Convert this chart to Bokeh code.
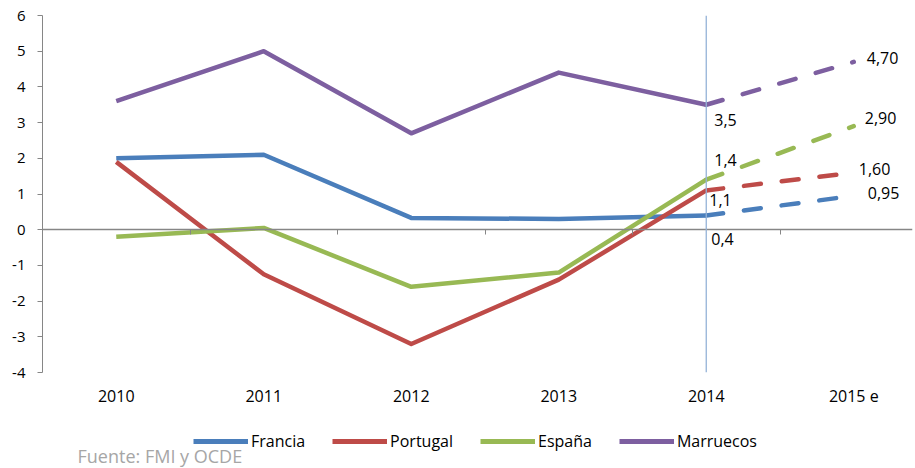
from bokeh.plotting import figure
from bokeh.layouts import column
from bokeh.models import (ColumnDataSource, Range1d, LinearAxis, FixedTicker, Span,
                          Legend, LegendItem, Label)
from bokeh.core.properties import value
from bokeh.embed import file_html
from bokeh.resources import INLINE

# ---------------- data ----------------
years = ["2010", "2011", "2012", "2013", "2014", "2015 e"]
francia = [2.0, 2.1, 0.33, 0.3, 0.4, 0.95]
portugal = [1.9, -1.25, -3.2, -1.4, 1.1, 1.60]
espana = [-0.2, 0.05, -1.6, -1.2, 1.4, 2.90]
marruecos = [3.6, 5.0, 2.7, 4.4, 3.5, 4.70]
series_names = ["Francia", "Portugal", "España", "Marruecos"]
y_ticks = [-4, -3, -2, -1, 0, 1, 2, 3, 4, 5, 6]
source_note = "Fuente: FMI y OCDE"

# ---------------- style ----------------
FONT = "Open Sans"
colors = {"Francia": "#4A7EBB", "Portugal": "#BE4B48", "España": "#98B954", "Marruecos": "#7D5FA0"}
# label offsets (pixels) for the 2014 and 2015 labels
off_2014 = {"Francia": (5, 24), "Portugal": (3, 10), "España": (8, -20), "Marruecos": (8, 15)}
off_2015 = {"Francia": (14, -3), "Portugal": (5, -4), "España": (11, -8), "Marruecos": (13, -4)}

series = {"Francia": francia, "Portugal": portugal, "España": espana, "Marruecos": marruecos}
n = len(years)
xs = list(range(n))

W = 915
LEFT, RIGHT = 42, 3
p = figure(width=W, height=420, output_backend="svg", toolbar_location=None,
           x_range=Range1d(-0.5, -0.5 + 870 / 147.5), y_range=Range1d(y_ticks[0], y_ticks[-1]),
           min_border_left=LEFT, min_border_top=15, min_border_right=RIGHT, min_border_bottom=48,
           x_axis_type=None)
p.outline_line_color = None
p.grid.visible = False
p.background_fill_color = "white"
p.border_fill_color = "white"

# y axis
ya = p.yaxis[0]
ya.ticker = FixedTicker(ticks=y_ticks)
ya.major_label_overrides = {t: str(t) for t in y_ticks}
ya.axis_line_color = "#868686"
ya.major_tick_line_color = "#868686"
ya.major_tick_out = 5
ya.major_tick_in = 0
ya.minor_tick_line_color = None
ya.major_label_standoff = 12
ya.major_label_text_font = FONT
ya.major_label_text_font_size = "15px"
ya.major_label_text_color = "#000000"

# x axis labels at the bottom
xa = LinearAxis(ticker=FixedTicker(ticks=xs),
                major_label_overrides={i: years[i] for i in xs})
xa.axis_line_color = None
xa.major_tick_line_color = None
xa.minor_tick_line_color = None
xa.major_label_standoff = 6
xa.major_label_text_font = FONT
xa.major_label_text_font_size = "16px"
xa.major_label_text_color = "#000000"
p.add_layout(xa, "below")

# axis crossing at zero with boundary ticks
za = LinearAxis(fixed_location=0, ticker=FixedTicker(ticks=[i + 0.5 for i in range(n - 1)]))
za.axis_line_color = "#868686"
za.axis_line_width = 1.5
za.major_tick_line_color = "#868686"
za.major_tick_out = 5
za.major_tick_in = 0
za.minor_tick_line_color = None
za.major_label_text_alpha = 0
za.major_label_text_font_size = "1px"
za.major_label_standoff = 0
p.add_layout(za, "below")

# vertical marker at 2014
p.add_layout(Span(location=xs[4], dimension="height", line_color="#95B3D7", line_width=1.3))

for name in series_names:
    vals = series[name]
    p.line(xs[:5], vals[:5], line_color=colors[name], line_width=4.5, line_join="round")
    p.line(xs[4:], vals[4:], line_color=colors[name], line_width=4.5, line_dash="17 21",
           line_cap="round")

# data labels
lx, ly, lt, lxo, lyo = [], [], [], [], []
for name in series_names:
    vals = series[name]
    lx.append(xs[4]); ly.append(vals[4]); lt.append(f"{vals[4]:.1f}".replace(".", ","))
    lxo.append(off_2014[name][0]); lyo.append(off_2014[name][1])
    lx.append(xs[5]); ly.append(vals[5]); lt.append(f"{vals[5]:.2f}".replace(".", ","))
    lxo.append(off_2015[name][0]); lyo.append(off_2015[name][1])
lsrc = ColumnDataSource(dict(x=lx, y=ly, text=lt, xo=lxo, yo=lyo))
p.text(x="x", y="y", text="text", x_offset="xo", y_offset="yo", source=lsrc,
       text_font=value(FONT), text_font_size="16px", text_color="#000000",
       text_align="left", text_baseline="middle")

# ---------------- legend + source strip ----------------
H2 = 48
p2 = figure(width=W, height=H2, output_backend="svg", toolbar_location=None,
            x_range=Range1d(LEFT, W - RIGHT), y_range=Range1d(0, H2),
            min_border_left=LEFT, min_border_right=RIGHT, min_border_top=0, min_border_bottom=0,
            x_axis_type=None, y_axis_type=None)
p2.outline_line_color = None
p2.grid.visible = False
items = []
nan = float("nan")
for name in series_names:
    r = p2.line(x=[nan, nan], y=[nan, nan], line_color=colors[name], line_width=5)
    items.append(LegendItem(label=name, renderers=[r]))

legend = Legend(items=items, orientation="horizontal", location=(193 - LEFT, 16),
                glyph_width=55, glyph_height=20, label_height=20, label_standoff=3,
                spacing=27, padding=0, margin=0, border_line_color=None,
                background_fill_alpha=0, label_text_font=FONT, label_text_font_size="16px",
                label_text_color="#000000")
p2.add_layout(legend)

p2.add_layout(Label(x=77, y=13, text=source_note,
                    text_font=FONT, text_font_size="18px", text_color="#A6A6A6",
                    text_baseline="middle", text_align="left"))

layout = column(p, p2, spacing=0)
open("out.html", "w").write(file_html(layout, INLINE))
